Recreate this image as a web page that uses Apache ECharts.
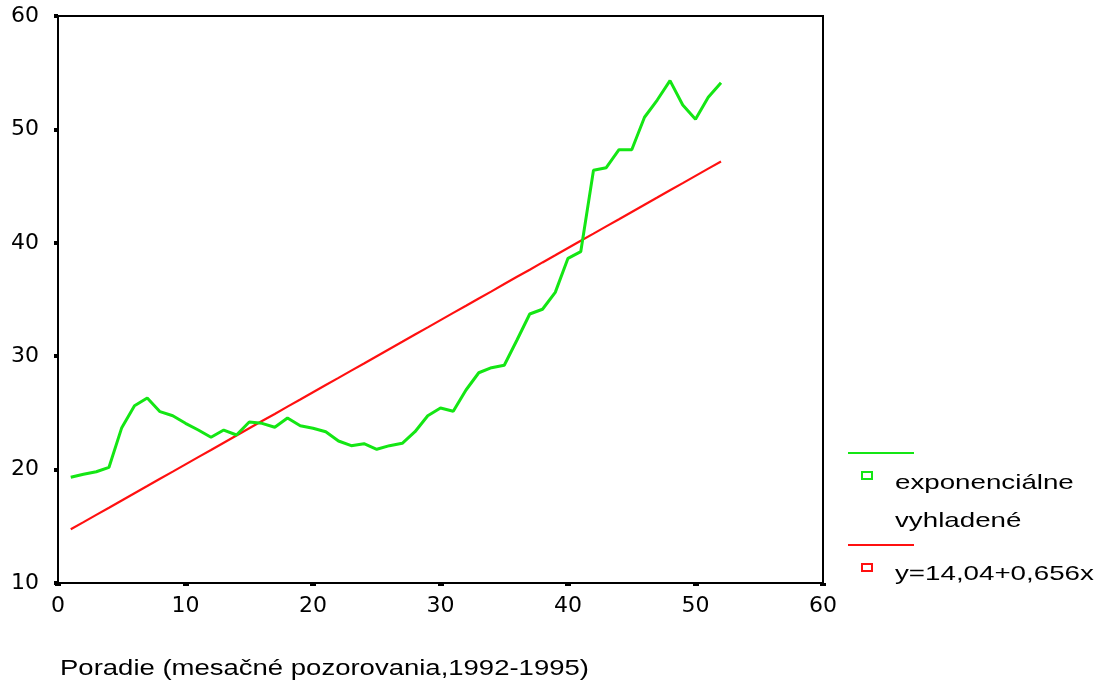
<!DOCTYPE html>
<html>
<head>
<meta charset="utf-8">
<script src="https://cdn.jsdelivr.net/npm/echarts@6/dist/echarts.min.js"></script>
<style>
  html, body { margin: 0; padding: 0; background: #fff; }
  #chart { width: 1104px; height: 686px; }
</style>
</head>
<body>
<div id="chart"></div>
<script>
// poradie 1..52 (mesačné pozorovania)
const months = [1,2,3,4,5,6,7,8,9,10,11,12,13,14,15,16,17,18,19,20,21,22,23,24,25,26,
  27,28,29,30,31,32,33,34,35,36,37,38,39,40,41,42,43,44,45,46,47,48,49,50,51,52];

// exponenciálne vyhladené
const smoothed = [19.32,19.59,19.81,20.20,23.70,25.63,26.31,25.11,24.75,24.08,23.49,22.85,23.49,
  23.05,24.20,24.08,23.73,24.55,23.87,23.64,23.34,22.52,22.11,22.28,21.79,22.11,22.32,23.34,
  24.75,25.43,25.14,27.02,28.54,28.99,29.20,31.43,33.72,34.14,35.63,38.63,39.22,46.39,46.62,
  48.21,48.21,51.07,52.59,54.30,52.15,50.89,52.83,54.12];

// lineárny trend
const trend = [14.74,15.37,16.01,16.64,17.28,17.92,18.55,19.19,19.82,20.46,21.10,21.73,22.37,
  23.00,23.64,24.28,24.91,25.55,26.18,26.82,27.46,28.09,28.73,29.36,30.00,30.64,31.27,31.91,
  32.54,33.18,33.82,34.45,35.09,35.72,36.36,37.00,37.63,38.27,38.90,39.54,40.18,40.81,41.45,
  42.08,42.72,43.36,43.99,44.63,45.26,45.90,46.54,47.17];

const legendLabels = ['exponenciálne', 'vyhladené', 'y=14,04+0,656x'];
const xTitle = 'Poradie (mesačné pozorovania,1992-1995)';

const GREEN = '#14e614';
const RED = '#ff1010';
const FONT = '"Liberation Sans", Arial, sans-serif';
const AXIS_FONT = '"DejaVu Sans", sans-serif';

const chart = echarts.init(document.getElementById('chart'));

// text roztiahnutý do šírky ako v pôvodnom obrázku
const wideText = (txt, x, y, size, sx) => ({
  type: 'text', x: x, y: y, scaleX: sx,
  style: { text: txt, font: size + 'px ' + FONT, fill: '#000', verticalAlign: 'middle', textVerticalAlign: 'middle' }
});

const option = {
  animation: false,
  backgroundColor: '#fff',
  textStyle: { fontFamily: FONT },
  grid: {
    left: 58, top: 16, right: 281, bottom: 103,
    show: true,
    borderColor: '#000',
    borderWidth: 2
  },
  xAxis: {
    type: 'value',
    min: 0, max: 60, interval: 10,
    axisLine: { show: true, lineStyle: { color: '#000', width: 2 } },
    axisTick: { show: true, inside: false, length: 3, lineStyle: { color: '#000', width: 6 } },
    axisLabel: { color: '#000', fontSize: 22, margin: 12, fontFamily: AXIS_FONT },
    splitLine: { show: false }
  },
  yAxis: {
    type: 'value',
    min: 10, max: 60, interval: 10,
    axisLine: { show: true, lineStyle: { color: '#000', width: 2 } },
    axisTick: { show: true, length: 4, lineStyle: { color: '#000', width: 4 } },
    axisLabel: { color: '#000', fontSize: 22, margin: 19, fontFamily: AXIS_FONT },
    splitLine: { show: false }
  },
  series: [
    {
      name: 'exponenciálne vyhladené',
      type: 'line',
      data: months.map((m, i) => [m, smoothed[i]]),
      symbol: 'none',
      lineStyle: { color: GREEN, width: 3 },
      z: 3
    },
    {
      name: 'y=14,04+0,656x',
      type: 'line',
      data: months.map((m, i) => [m, trend[i]]),
      symbol: 'none',
      lineStyle: { color: RED, width: 2.2 },
      z: 2
    }
  ],
  graphic: [
    // legenda
    { type: 'line', shape: { x1: 848, y1: 453, x2: 914, y2: 453 }, style: { stroke: GREEN, lineWidth: 2 } },
    { type: 'rect', shape: { x: 862, y: 472, width: 10, height: 7 }, style: { fill: 'none', stroke: GREEN, lineWidth: 2 } },
    wideText(legendLabels[0], 895, 483, 21, 1.32),
    wideText(legendLabels[1], 895, 521, 21, 1.32),
    { type: 'line', shape: { x1: 848, y1: 545, x2: 914, y2: 545 }, style: { stroke: RED, lineWidth: 2 } },
    { type: 'rect', shape: { x: 862, y: 564, width: 10, height: 7 }, style: { fill: 'none', stroke: RED, lineWidth: 2 } },
    wideText(legendLabels[2], 895, 574, 21, 1.32),
    // názov osi x
    wideText(xTitle, 60, 669, 22, 1.25)
  ]
};

chart.setOption(option);
</script>
</body>
</html>
